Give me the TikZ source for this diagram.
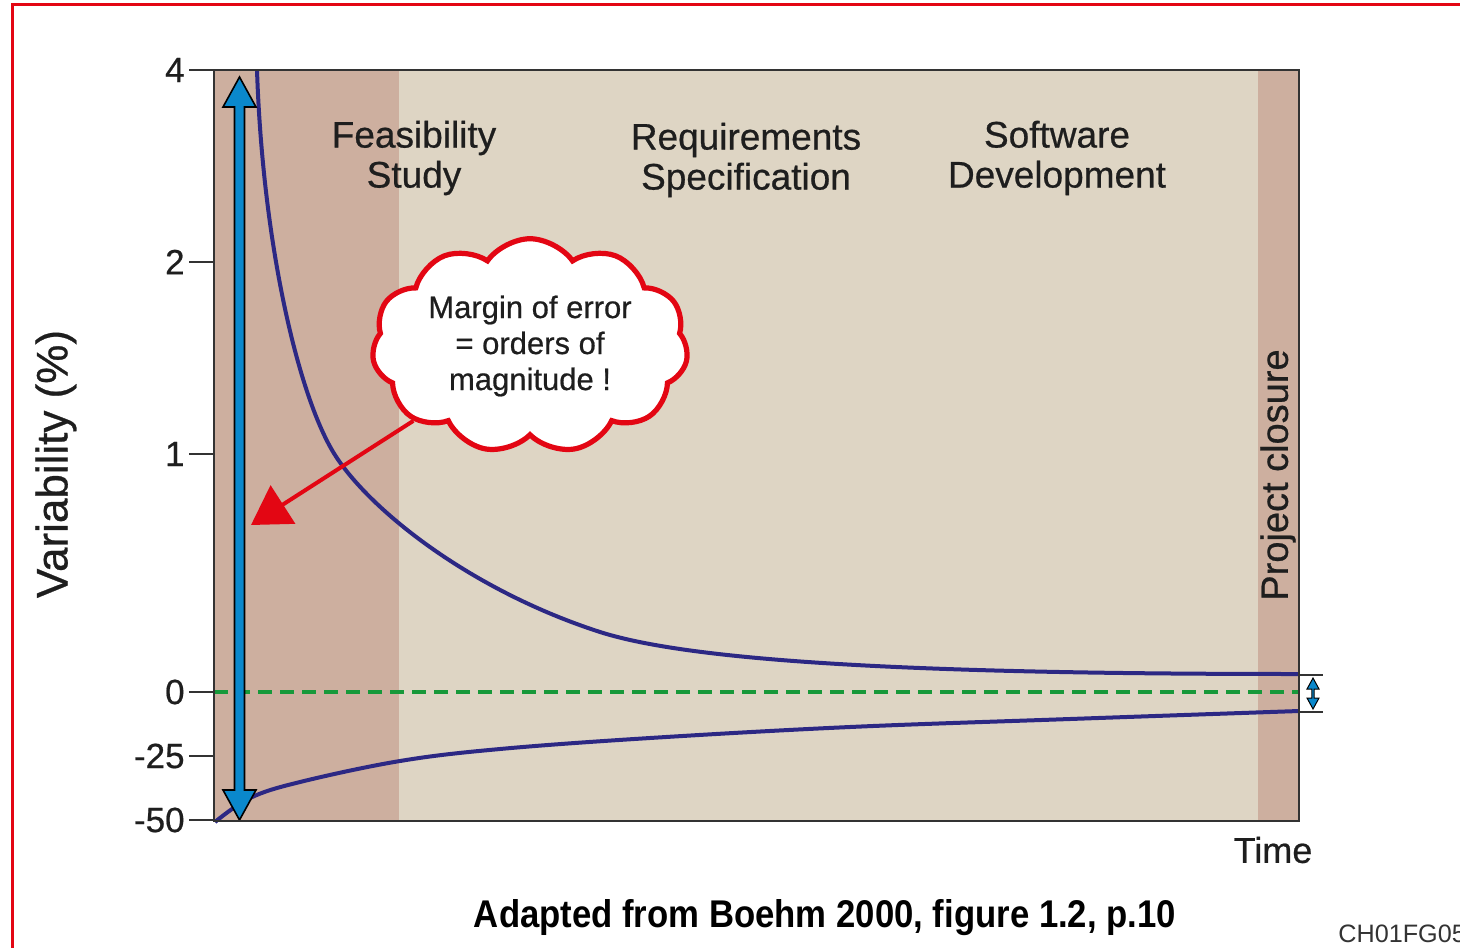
\documentclass[tikz,border=0pt]{standalone}
\usepackage{fontspec}
\setmainfont{Liberation Sans}
\newfontfamily\medium{Liberation Sans}[FakeBold=0.6]
\usetikzlibrary{arrows.meta,shapes.symbols}
\definecolor{bandA}{HTML}{CDAF9F}
\definecolor{bandB}{HTML}{DED5C4}
\definecolor{curveC}{HTML}{2C2884}
\definecolor{arrowB}{HTML}{0A88CC}
\definecolor{redC}{HTML}{E30613}
\definecolor{greenC}{HTML}{17993A}
\definecolor{frameC}{HTML}{333333}
\definecolor{textC}{HTML}{1E1E1E}
\begin{document}
\begin{tikzpicture}[x=0.5pt,y=-0.5pt,
  curve/.style={draw=curveC,line width=2pt},
  ticklab/.style={anchor=east,inner sep=0pt,text=textC,font=\medium\fontsize{17.5}{17.5}\selectfont},
  tickline/.style={draw=frameC,line width=1pt},
  phase/.style={align=center,text=textC,font=\medium\fontsize{18.5}{20}\selectfont},
  bluearr/.style={fill=arrowB,draw=black,line width=0.8pt,line join=miter}]
\useasboundingbox (0,0) rectangle (1460,947);
% red frame
\draw[redC,line width=1.5pt] (12,950) -- (12,5) -- (1465,5);
% bands
\fill[bandA] (214,70) rectangle (399,821);
\fill[bandB] (399,70) rectangle (1258,821);
\fill[bandA] (1258,70) rectangle (1299,821);
% zero line
\draw[greenC,line width=2pt,dash pattern=on 7pt off 4pt] (214,692) -- (1299,692);
% curves
\draw[curve] (257,70) .. controls (263,250) and (300,400) .. (335,455)
  .. controls (370,510) and (470,590) .. (600,632)
  .. controls (700,664) and (950,674) .. (1299,674);
\draw[curve] plot[smooth,tension=0.6] coordinates {(215,822) (250,798) (300,782) (400,761) (500,749) (650,738) (850,727) (1070,719) (1299,711)};
% big blue double arrow
\draw[bluearr] (234.5,107) -- (223,107) -- (239.5,77) -- (256,107) -- (244.5,107) -- (244.5,790) -- (256,790) -- (239.5,820) -- (223,790) -- (234.5,790) -- cycle;
% frame
\draw[frameC,line width=1pt] (214,70) rectangle (1299,821);
% ticks
\foreach \yy/\lab in {70/4,262/2,454/1,692/0,756/-25,820/-50}{
  \draw[tickline] (189,\yy) -- (214,\yy);
  \node[ticklab] at (185,\yy) {\lab};
}
% small right arrow
\draw[tickline] (1299,675) -- (1323,675);
\draw[tickline] (1299,712) -- (1323,712);
\draw[bluearr,line width=0.5pt] (1311.8,689) -- (1307,689) -- (1313,678) -- (1319,689) -- (1314.2,689) -- (1314.2,698) -- (1319,698) -- (1313,709) -- (1307,698) -- (1311.8,698) -- cycle;
% labels
\node[phase] (fs) at (414,158) {Feasibility\\Study};
\node[phase] (rs) at (746,160) {Requirements\\Specification};
\node[phase] (sd) at (1057,158) {Software\\Development};
\node[rotate=90,text=textC,font=\medium\fontsize{19}{19}\selectfont] (pc) at (1278,475) {Project closure};
\node[rotate=90,text=textC,font=\medium\fontsize{22}{22}\selectfont] (va) at (56,464) {Variability (\%)};
\node[text=textC,font=\medium\fontsize{18}{18}\selectfont] (ti) at (1273,850) {Time};
\node[inner sep=0pt] (cap) at (825,918) {\resizebox{351pt}{14pt}{\bfseries Adapted from Boehm 2000, figure 1.2, p.10}};
\node[anchor=west,inner sep=0pt,text=black!80,font=\fontsize{12.6}{12.6}\selectfont] (code) at (1338,934) {CH01FG05};
% cloud
\coordinate (tipA) at (251,525);
\node[cloud,cloud puffs=11,cloud puff arc=110,aspect=1.6,draw=redC,fill=white,line width=2.6pt,
  minimum width=158pt,minimum height=104pt,inner sep=0pt,align=center,text=textC,
  font=\medium\fontsize{15.5}{18}\selectfont] (cl) at (530,346) {Margin of error\\= orders of\\magnitude !};
\draw[redC,line width=2pt,-{Triangle[length=19pt,width=22.5pt]}] (cl) -- (tipA);
\end{tikzpicture}
\end{document}
